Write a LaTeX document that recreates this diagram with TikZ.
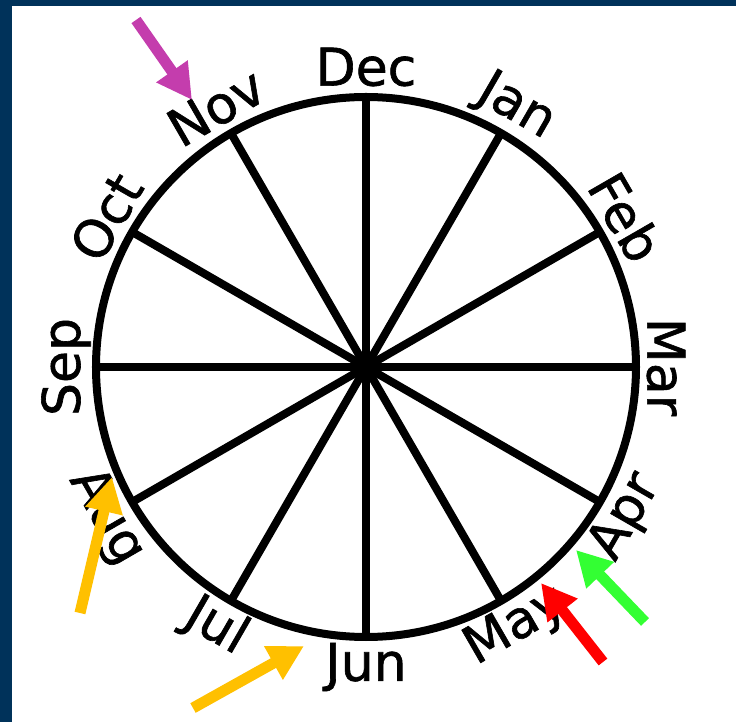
\documentclass[tikz,border=0pt]{standalone}
\usepackage{fontspec}
\setmainfont{DejaVu Sans}
\newfontfamily\monthfont{DejaVu Sans}[FakeBold=1.2]
\usetikzlibrary{arrows.meta}

\definecolor{framecol}{RGB}{0,50,90}
\definecolor{magentacol}{RGB}{196,61,173}
\definecolor{orangecol}{RGB}{255,192,0}
\definecolor{redcol}{RGB}{255,0,0}
\definecolor{greencol}{RGB}{51,255,51}

\begin{document}
\begin{tikzpicture}[
    x=1pt, y=1pt,
    rim/.style={draw, line width=8pt},
    spoke/.style={line width=8pt},
    month/.style={font=\monthfont\fontsize{52}{62}\selectfont, inner sep=0pt},
    pointer/.style={-{Triangle[length=35pt, width=36pt]}, line width=11pt}
]

% page and frame
\useasboundingbox (-366,-355) rectangle (370,367);
\fill[white] (-366,-355) rectangle (370,367);
\fill[framecol] (-366,-355) rectangle (-354,367);
\fill[framecol] (-366,361) rectangle (370,367);

% wheel of months
\coordinate (c) at (0,0);
\foreach \m [count=\i from 0] in {Dec,Jan,Feb,Mar,Apr,May,Jun,Jul,Aug,Sep,Oct,Nov} {
    \pgfmathsetmacro{\ang}{90-30*\i}
    \pgfmathsetmacro{\rot}{\ang-90+180*and(\i>3,\i<9)}
    \coordinate (p\i) at (\ang:270pt);
    \node[month, rotate=\rot] (m\i) at (\ang:300pt) {\m};
}
\foreach \i in {0,...,5} {
    \pgfmathtruncatemacro{\j}{\i+6}
    \draw[spoke] (p\i) -- (p\j);
}
\draw[rim] (c) circle (270pt);

% pointers
\coordinate (novtail) at (-230,347);
\coordinate (novtip) at (-174,267);
\coordinate (augtail) at (-286,-246);
\coordinate (augtip) at (-254,-110);
\coordinate (juntail) at (-173,-341);
\coordinate (juntip) at (-62,-279);
\coordinate (maytail) at (237,-295);
\coordinate (maytip) at (175,-216);
\coordinate (aprtail) at (279,-255);
\coordinate (aprtip) at (210,-183);

\draw[pointer, magentacol] (novtail) -- (novtip);
\draw[pointer, orangecol] (augtail) -- (augtip);
\draw[pointer, orangecol] (juntail) -- (juntip);
\draw[pointer, redcol] (maytail) -- (maytip);
\draw[pointer, greencol] (aprtail) -- (aprtip);

\end{tikzpicture}
\end{document}
